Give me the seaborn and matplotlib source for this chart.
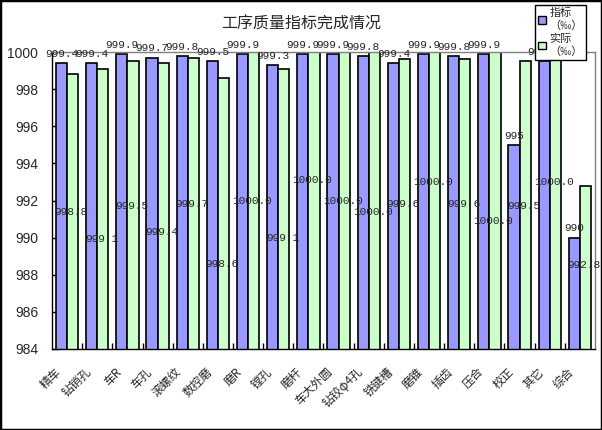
import numpy as np
import pandas as pd
import seaborn as sns
import matplotlib.pyplot as plt
import matplotlib.transforms as mtransforms
from matplotlib.patches import Rectangle

# 工序质量指标 data (‰)
categories = ["精车", "钻销孔", "车R", "车孔", "滚螺纹", "数控磨", "磨R", "镗孔", "磨杆",
              "车大外圆", "钻铰φ4孔", "铣键槽", "磨锥", "插齿", "压合", "校正", "其它", "综合"]
target = [999.4, 999.4, 999.9, 999.7, 999.8, 999.5, 999.9, 999.3, 999.9,
          999.9, 999.8, 999.4, 999.9, 999.8, 999.9, 995, 999.5, 990]
actual = [998.8, 999.1, 999.5, 999.4, 999.7, 998.6, 1000.0, 999.1, 1000.0,
          1000.0, 1000.0, 999.6, 1000.0, 999.6, 1000.0, 999.5, 1000.0, 992.8]
series_names = ["指标\n（‰）", "实际\n（‰）"]
# where the 实际 labels sit in the original (value units)
actual_label_y = [991.4, 989.9, 991.7, 990.3, 991.8, 988.6, 992.0, 990.0, 993.1,
                  992.0, 991.4, 991.8, 993.0, 991.8, 990.9, 991.7, 993.0, 988.5]
yticks = np.arange(984, 1001, 2)

colors = ["#9999FF", "#CCFFCC"]

sns.set_theme(style="white")
plt.rcParams['font.family'] = ['Noto Sans CJK SC', 'DejaVu Sans']

df = pd.DataFrame({
    "工序": categories * 2,
    "数值": target + actual,
    "系列": [series_names[0]] * len(categories) + [series_names[1]] * len(categories),
})

fig, ax = plt.subplots(figsize=(6.02, 4.30), dpi=100)
fig.subplots_adjust(left=52/602, right=595/602, top=1-52/430, bottom=1-349/430)

sns.barplot(data=df, x="工序", y="数值", hue="系列", palette=colors, saturation=1,
            edgecolor="black", linewidth=1.2, width=0.74, errorbar=None, ax=ax)

ax.set_ylim(984, 1000)
ax.set_yticks(yticks)
ax.set_xlim(-0.5, len(categories) - 0.5)
ax.set_xlabel("")
ax.set_ylabel("")

# labels on top of 指标 bars
ax.bar_label(ax.containers[0], labels=[f"{v:g}" for v in target], padding=3,
             fontsize=8, family="Liberation Mono")
# 实际 labels floating inside the bars
for patch, v, y in zip(ax.containers[1], actual, actual_label_y):
    ax.text(patch.get_x() + patch.get_width() / 2 - 0.05, y, f"{v:.1f}", ha="center",
            va="center", fontsize=8, family="Liberation Mono")

# axes look
for side in ["left", "bottom"]:
    ax.spines[side].set_color("black")
    ax.spines[side].set_linewidth(1)
for side in ["top", "right"]:
    ax.spines[side].set_color("#808080")
    ax.spines[side].set_linewidth(1)

ax.tick_params(axis="y", left=True, direction="in", length=4, width=1, color="black",
               pad=10, labelsize=10)
for lab in ax.get_yticklabels():
    lab.set_family("Liberation Sans")

ax.set_xticks(range(len(categories)))
ax.set_xticks(np.arange(0.5, len(categories) - 0.5, 1), minor=True)
ax.tick_params(axis="x", which="major", bottom=True, length=0, pad=15, labelsize=8.5)
ax.tick_params(axis="x", which="minor", bottom=True, direction="in", length=4, width=1,
               color="black")
shift = mtransforms.ScaledTranslation(-0.08, 0, fig.dpi_scale_trans)
for lab in ax.get_xticklabels():
    lab.set_rotation(45)
    lab.set_ha("right")
    lab.set_va("center")
    lab.set_rotation_mode("anchor")
    lab.set_transform(lab.get_transform() + shift)

# legend
handles, labels = ax.get_legend_handles_labels()
for h in handles:
    h.set_edgecolor("black")
    h.set_linewidth(1)
ax.legend(handles, labels, loc="upper left", bbox_to_anchor=(535/602, 1 - 5/430),
          bbox_transform=fig.transFigure, frameon=True, fancybox=False, edgecolor="black",
          framealpha=1, fontsize=8, handlelength=0.7, handleheight=0.7,
          handletextpad=0.3, borderpad=0.3, labelspacing=0.3, borderaxespad=0)
ax.get_legend().get_frame().set_linewidth(1)

fig.text(0.5, 1 - 24/430, "工序质量指标完成情况", ha="center", va="center", fontsize=11.5)
fig.patches.append(Rectangle((0, 0), 1, 1, transform=fig.transFigure, fill=False,
                             edgecolor="black", linewidth=2.5))

plt.savefig("out.png", dpi=100)
